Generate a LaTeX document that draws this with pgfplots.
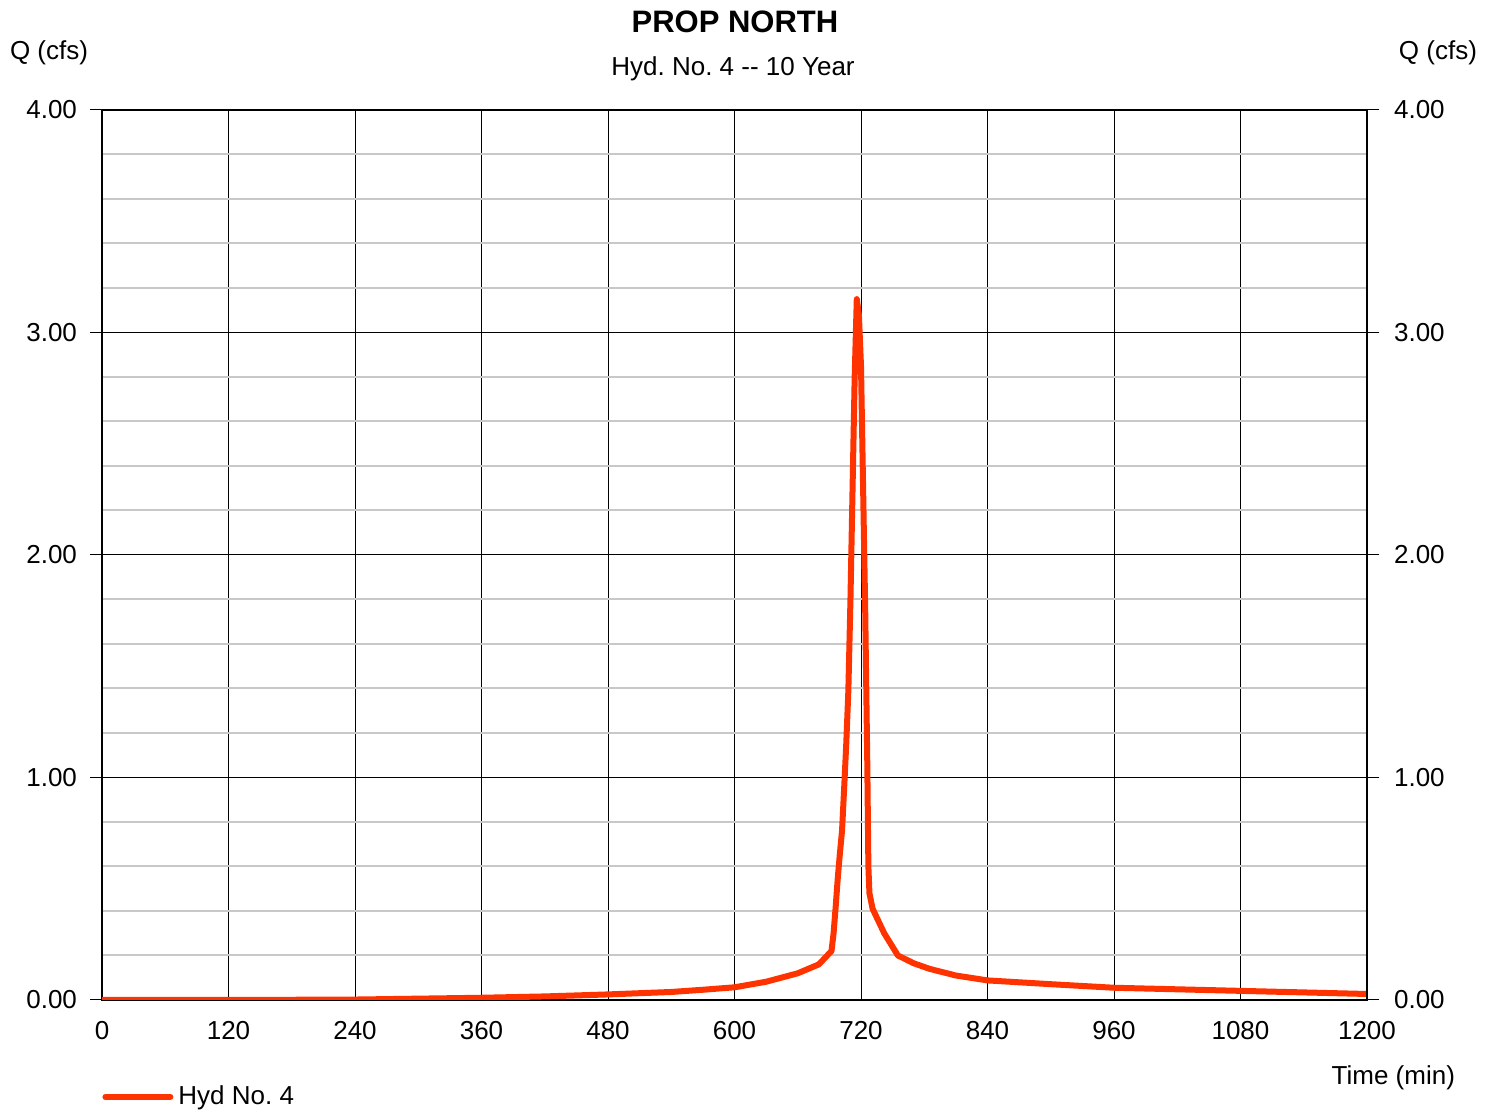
\documentclass[border=0pt]{standalone}
\usepackage{pgfplots}
\pgfplotsset{compat=1.18}
\usepackage{fontspec}
\setmainfont{Liberation Sans}
\frenchspacing
\definecolor{hyd}{RGB}{255,51,0}
\definecolor{mgrid}{RGB}{200,200,200}
\begin{document}
\begin{tikzpicture}
\useasboundingbox (0pt,0pt) rectangle (748pt,556pt);
\begin{axis}[
  at={(51pt,56pt)}, anchor=south west,
  scale only axis, width=632.5pt, height=445pt,
  xmin=0, xmax=1200, ymin=0, ymax=4,
  xtick={0,120,...,1200}, ytick={0,1,2,3,4},
  minor y tick num=4,
  grid=both,
  major grid style={black, line width=0.5pt},
  minor grid style={mgrid, line width=1pt},
  axis line style={black, line width=0.6pt},
  ytick pos=both,
  tick align=outside,
  major tick length=6pt, minor tick length=0pt,
  xtick style={draw=none},
  ytick style={black, line width=0.5pt},
  tick label style={font=\fontsize{13}{15}\selectfont},
  /pgf/number format/assume math mode=true,
  yticklabel style={xshift=-3pt, /pgf/number format/fixed, /pgf/number format/fixed zerofill, /pgf/number format/precision=2},
  xticklabel style={/pgf/number format/1000 sep={}, yshift=-1pt},
  legend style={at={(axis description cs:0,-0.109)}, anchor=west, draw=none, fill=none, inner sep=0pt,
    font=\fontsize{13}{15}\selectfont},
  legend cell align=left,
  legend image code/.code={\draw[#1] (0pt,0pt) -- (32.5pt,0pt);},
  legend style={nodes={inner xsep=2.5pt}},
]
\addplot[hyd, line width=3pt, line join=round, line cap=round] coordinates {
(0,0.000) (120,0.000) (240,0.002) (300,0.006) (360,0.010) (420,0.016)
(480,0.025) (540,0.036) (570,0.046) (600,0.057) (630,0.082) (660,0.120)
(680,0.160) (692,0.220) (694,0.30) (696,0.42) (698,0.55) (700,0.66) (702,0.76)
(704,0.95) (706,1.15) (708,1.39) (710,1.80) (712,2.30) (714,2.80) (716,3.15)
(718,3.08) (720,2.85) (722,2.30) (724,1.75) (726,1.05) (727,0.60) (728,0.48)
(731,0.41) (742,0.30) (755,0.200) (770,0.165) (785,0.140) (810,0.110)
(840,0.088) (900,0.071) (960,0.055) (1020,0.048) (1080,0.041) (1140,0.034)
(1200,0.027)
};
\addlegendentry{Hyd No. 4}
\end{axis}
\begin{axis}[
  at={(51pt,56pt)}, anchor=south west,
  scale only axis, width=632.5pt, height=445pt,
  xmin=0, xmax=1200, ymin=0, ymax=4,
  axis x line=none, axis y line*=right,
  ytick={0,1,2,3,4},
  tick align=outside, major tick length=6pt,
  ytick style={black, line width=0.5pt},
  axis line style={black, line width=0.6pt},
  tick label style={font=\fontsize{13}{15}\selectfont},
  /pgf/number format/assume math mode=true,
  yticklabel style={xshift=4pt, /pgf/number format/fixed, /pgf/number format/fixed zerofill, /pgf/number format/precision=2},
]
\end{axis}
\node[font=\fontsize{15.5}{18}\selectfont\bfseries] at (367.5pt,545pt) {PROP NORTH};
\node[font=\fontsize{13}{15}\selectfont] at (366.5pt,521.5pt) {Hyd. No. 4 -{}- 10 Year};
\node[font=\fontsize{13}{15}\selectfont, anchor=west] at (1.5pt,529.5pt) {Q (cfs)};
\node[font=\fontsize{13}{15}\selectfont, anchor=east] at (742pt,529.5pt) {Q (cfs)};
\node[font=\fontsize{13}{15}\selectfont, anchor=east] at (731pt,17pt) {Time (min)};
\end{tikzpicture}
\end{document}
